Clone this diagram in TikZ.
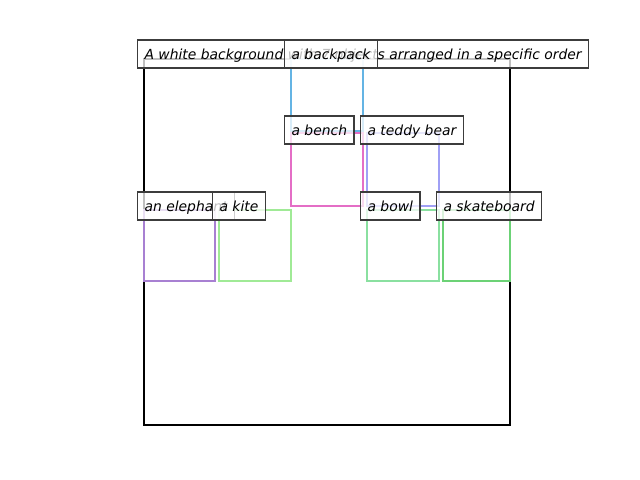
\documentclass[tikz,border=0pt]{standalone}
\usepackage{fontspec}
\setmainfont{DejaVu Sans}
\usepackage{tikz}
\definecolor{cbackpack}{RGB}{100,180,228}
\definecolor{cbench}{RGB}{228,110,198}
\definecolor{cteddy}{RGB}{160,160,245}
\definecolor{celephant}{RGB}{168,128,210}
\definecolor{ckite}{RGB}{160,234,150}
\definecolor{cbowl}{RGB}{138,224,160}
\definecolor{cskate}{RGB}{108,210,118}
\definecolor{cedge}{RGB}{60,60,60}

\begin{document}
\begin{tikzpicture}[x=0.72pt,y=-0.72pt,
  box/.style={line width=2.1pt},
  lbl/.style={anchor=base west,xshift=-5pt,draw=cedge,line width=0.8pt,fill=white,
    fill opacity=0.75,text opacity=1,draw opacity=1,inner xsep=5pt,inner ysep=5pt,
    text height=8.7pt,text depth=1.5pt,font=\itshape}]
\useasboundingbox (0,0) rectangle (640,480);
\coordinate (TL) at (144,59);
\coordinate (BR) at (510,425);
\draw[line width=1.8pt] (TL) rectangle (BR);
% objects
\draw[box,cbackpack] (291,59) rectangle (363,131);
\draw[box,cbench] (291,133) rectangle (363,206);
\draw[box,cteddy] (367,133) rectangle (439,206);
\draw[box,celephant] (144,210) rectangle (215,281);
\draw[box,ckite] (219,210) rectangle (291,281);
\draw[box,cbowl] (367,210) rectangle (439,281);
\draw[box,cskate] (443,210) rectangle (510,281);
% labels
\node[lbl] (title) at (TL) {A white background with 7 objects arranged in a specific order};
\node[lbl] (backpack) at (291,59) {a backpack};
\node[lbl] (bench) at (291,135) {a bench};
\node[lbl] (teddy) at (367,135) {a teddy bear};
\node[lbl] (elephant) at (144,211) {an elephant};
\node[lbl] (kite) at (219,211) {a kite};
\node[lbl] (bowl) at (367,211) {a bowl};
\node[lbl] (skate) at (443,211) {a skateboard};
\end{tikzpicture}
\end{document}
